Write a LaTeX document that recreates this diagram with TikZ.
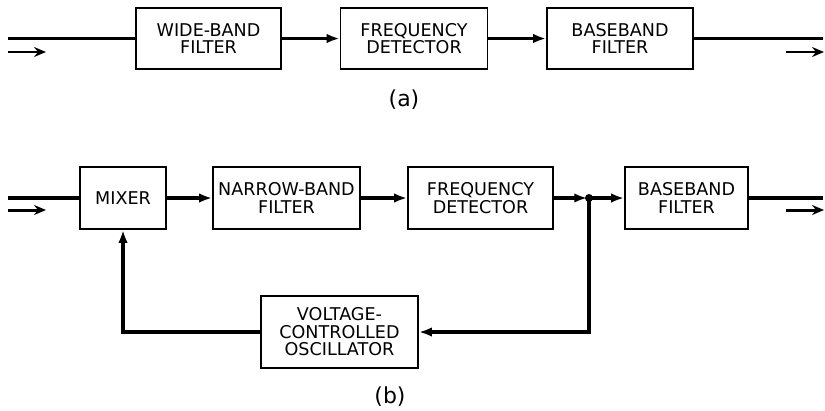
\documentclass[tikz,border=0pt]{standalone}
\usepackage{fontspec}
\setmainfont{DejaVu Sans}
\usetikzlibrary{arrows.meta}

\begin{document}
\begin{tikzpicture}[x=0.02cm, y=-0.02cm,
    box/.style={draw, line width=1pt, minimum height=1.22cm, inner sep=0pt, align=center, font=\fontsize{10}{10}\selectfont},
    wire/.style={line width=2pt},
    sig/.style={wire, -{Latex[length=0.26cm, width=0.19cm]}},
    flow/.style={line width=1.7pt, -{Stealth[length=0.24cm, width=0.2cm, inset=0.08cm]}},
    sublabel/.style={font=\fontsize{12.5}{14}\selectfont}]
      \useasboundingbox (0,0) rectangle (825,410);
      % (a)
      \node [box, minimum width=2.9cm] (W) at (208.5,38.5) {WIDE-BAND\\FILTER};
      \node [box, minimum width=2.94cm] (F) at (414,38.5) {FREQUENCY\\DETECTOR};
      \node [box, minimum width=2.92cm] (B) at (620,38.5) {BASEBAND\\FILTER};
      \coordinate (I) at (8,38.5);
      \coordinate (O) at (823,38.5);
      \draw [wire] (I) to (W.west);
      \draw [sig] (W.east) to (F.west);
      \draw [sig] (F.east) to (B.west);
      \draw [wire] (B.east) to (O);
      \coordinate (Ia) at (8,52);
      \coordinate (Ib) at (46,52);
      \coordinate (Oa) at (786,52);
      \coordinate (Ob) at (824,52);
      \draw [flow] (Ia) to (Ib);
      \draw [flow] (Oa) to (Ob);
      \node [sublabel] (Ta) at (404,100) {(a)};
      % (b)
      \node [box, minimum width=1.72cm, minimum height=1.24cm] (M) at (123,198) {MIXER};
      \node [box, minimum width=2.94cm, minimum height=1.24cm] (N) at (286.5,198) {NARROW-BAND\\FILTER};
      \node [box, minimum width=2.9cm, minimum height=1.24cm] (D) at (480.5,198) {FREQUENCY\\DETECTOR};
      \node [box, minimum width=2.46cm, minimum height=1.24cm] (E) at (686.5,198) {BASEBAND\\FILTER};
      \node [box, minimum width=3.14cm, minimum height=1.44cm] (V) at (339.5,332) {VOLTAGE-\\CONTROLLED\\OSCILLATOR};
      \coordinate (J) at (589,198);
      \coordinate (I2) at (8,198);
      \coordinate (O2) at (823,198);
      \draw [wire] (I2) to (M.west);
      \draw [sig] (M.east) to (N.west);
      \draw [sig] (N.east) to (D.west);
      \draw [sig, shorten >=1pt] (D.east) to (J);
      \draw [sig] (J) to (E.west);
      \draw [wire] (E.east) to (O2);
      \fill (J) circle [radius=0.08cm];
      \draw [sig] (J) |- (V.east);
      \draw [sig] (V.west) -| (M.south);
      \coordinate (Ic) at (8,210);
      \coordinate (Id) at (46,210);
      \coordinate (Oc) at (786,210);
      \coordinate (Od) at (824,210);
      \draw [flow] (Ic) to (Id);
      \draw [flow] (Oc) to (Od);
      \node [sublabel] (Tb) at (390,397) {(b)};
    \end{tikzpicture}
\end{document}
